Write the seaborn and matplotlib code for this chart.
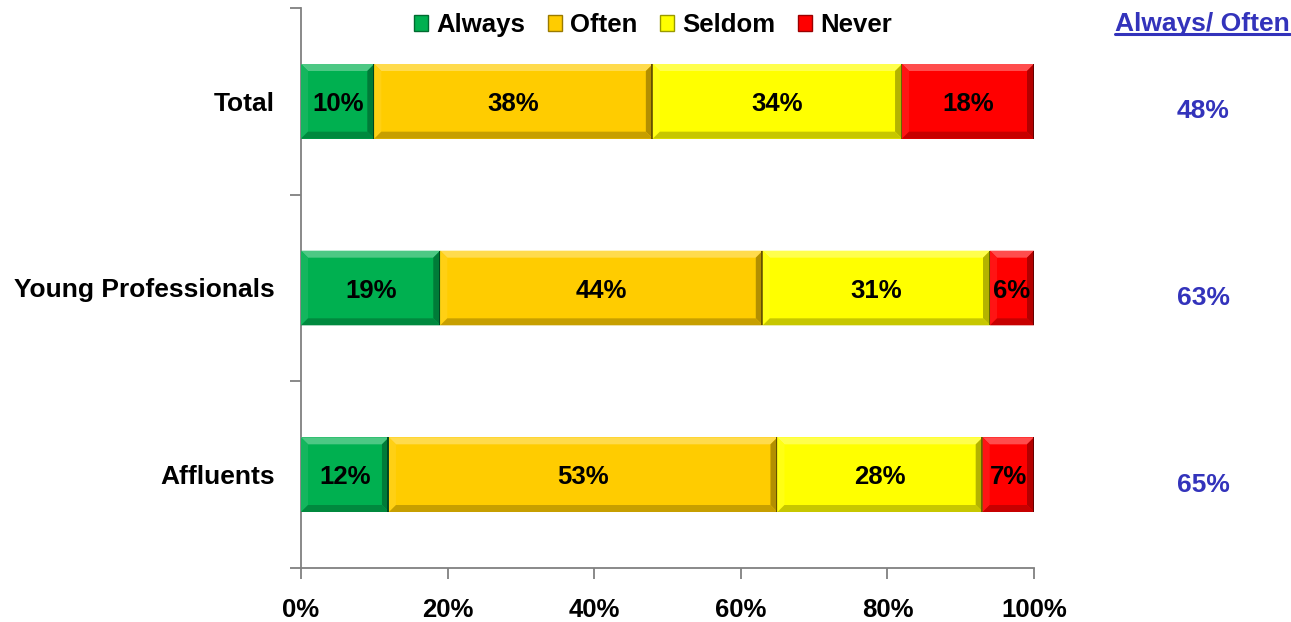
import matplotlib
matplotlib.use("Agg")
import matplotlib.pyplot as plt
import matplotlib.colors as mcolors
import matplotlib.transforms as mtransforms
from matplotlib.patches import Polygon, Patch
from matplotlib.ticker import FixedLocator, PercentFormatter
import numpy as np
import pandas as pd
import seaborn as sns

# Survey responses by segment (percent of respondents)
categories = ["Total", "Young Professionals", "Affluents"]
series_names = ["Always", "Often", "Seldom", "Never"]
always = [10, 19, 12]
often = [38, 44, 53]
seldom = [34, 31, 28]
never = [18, 6, 7]
always_often = [48, 63, 65]
x_ticks = [0, 20, 40, 60, 80, 100]

series_values = [always, often, seldom, never]
series_colors = ["#00B050", "#FFCC00", "#FFFF00", "#FF0000"]
total_color = "#3333BB"

sns.set_theme(style="white")
plt.rcParams["font.family"] = ["Liberation Sans", "DejaVu Sans"]
plt.rcParams["font.weight"] = "bold"
plt.rcParams["text.color"] = "black"
plt.rcParams["xtick.color"] = "black"
plt.rcParams["ytick.color"] = "black"

FS = 18.5
FS_BIG = 19
fig = plt.figure(figsize=(12.91, 6.22), dpi=100)
ax = fig.add_axes([301 / 1291, 1 - 568 / 622, 733 / 1291, 560 / 622])

rows = []
for name, vals in zip(series_names, series_values):
    for cat, v in zip(categories, vals):
        rows.append({"segment": cat, "series": name, "value": v})
df = pd.DataFrame(rows)

# stacked horizontal bars: each series starts where the previous one ends
left = np.zeros(len(categories))
for name, vals, col in zip(series_names, series_values, series_colors):
    sub = df[df["series"] == name]
    sns.barplot(data=sub, x="value", y="segment", order=categories, orient="h",
                color=col, saturation=1, width=0.4, left=left, ax=ax,
                edgecolor="none", linewidth=0)
    left = left + np.array(vals)

ax.set_xlim(0, 100)
ax.set_ylim(2.5, -0.5)


def mix(c, other, t):
    a = np.array(mcolors.to_rgb(c))
    b = np.array(mcolors.to_rgb(other))
    return tuple(a * (1 - t) + b * t)


def bevel(patch, color, d=7):
    """Draw a raised-bevel frame around a bar."""
    x0, y0 = patch.get_x(), patch.get_y()
    w, h = patch.get_width(), patch.get_height()
    trans = ax.transData
    p0 = trans.transform((x0, y0))
    p1 = trans.transform((x0 + w, y0 + h))
    L, R = min(p0[0], p1[0]), max(p0[0], p1[0])
    B, T = min(p0[1], p1[1]), max(p0[1], p1[1])
    inv = trans.inverted()
    faces = [
        ([(L, T), (R, T), (R - d, T - d), (L + d, T - d)], mix(color, "white", 0.3)),
        ([(L, T), (L + d, T - d), (L + d, B + d), (L, B)], mix(color, "white", 0.08)),
        ([(R, T), (R - d, T - d), (R - d, B + d), (R, B)], mix(color, "black", 0.3)),
        ([(L, B), (R, B), (R - d, B + d), (L + d, B + d)], mix(color, "black", 0.22)),
    ]
    for pts, fc in faces:
        ax.add_patch(Polygon(inv.transform(pts), closed=True, facecolor=fc,
                             edgecolor="none", zorder=3))
    ax.add_patch(Polygon(inv.transform([(R - 1.5, T), (R, T), (R, B), (R - 1.5, B)]),
                         closed=True, facecolor=mix(color, "black", 0.6),
                         edgecolor="none", zorder=3))


fig.canvas.draw()
n = len(categories)
for i, (vals, col) in enumerate(zip(series_values, series_colors)):
    for j in range(n):
        patch = ax.patches[i * n + j]
        bevel(patch, col)
        cx = patch.get_x() + patch.get_width() / 2
        cy = patch.get_y() + patch.get_height() / 2
        ax.text(cx, cy, f"{vals[j]}%", ha="center", va="center_baseline",
                fontsize=FS, fontweight="bold", color="black", zorder=5)

# axes styling
for s in ["top", "right"]:
    ax.spines[s].set_visible(False)
for s in ["left", "bottom"]:
    ax.spines[s].set_color("#808080")
    ax.spines[s].set_linewidth(1.3)

ax.set_xticks(x_ticks)
ax.xaxis.set_major_formatter(PercentFormatter(decimals=0))
ax.tick_params(axis="x", direction="out", length=8, width=1.3, color="#808080",
               pad=13.5, labelsize=FS, bottom=True, labelcolor="black")
ax.yaxis.set_minor_locator(FixedLocator([-0.5, 0.5, 1.5, 2.5]))
ax.tick_params(axis="y", which="minor", direction="out", length=8, width=1.3,
               color="#808080", left=True)
ax.tick_params(axis="y", which="major", length=0, pad=19, labelsize=FS_BIG,
               labelcolor="black")
for lab in ax.get_xticklabels() + ax.get_yticklabels():
    lab.set_fontweight("bold")
    lab.set_color("black")
ax.set_xlabel("")
ax.set_ylabel("")

# legend
handles = [Patch(facecolor=c, edgecolor=mix(c, "black", 0.4), linewidth=1) for c in series_colors]
leg = fig.legend(handles, series_names, loc="center", bbox_to_anchor=(653 / 1291, 1 - 25 / 622),
                 ncol=4, frameon=False, handlelength=0.55, handleheight=0.55,
                 handletextpad=0.3, columnspacing=0.9, prop={"size": FS, "weight": "bold"},
                 labelcolor="black")

# combined Always/Often column
hdr = fig.text(1290 / 1291, 1 - 22 / 622, "Always/ Often", ha="right", va="center_baseline",
               fontsize=FS_BIG, fontweight="bold", color=total_color)
fig.canvas.draw()
bb = hdr.get_window_extent().transformed(fig.transFigure.inverted())
fig.add_artist(plt.Line2D([bb.x0, bb.x1], [1 - 34 / 622] * 2, color=total_color,
                          linewidth=2.2, transform=fig.transFigure))

col_trans = mtransforms.blended_transform_factory(fig.transFigure, ax.transData)
for j, v in enumerate(always_often):
    ax.text(1203 / 1291, j + 0.04, f"{v}%", transform=col_trans,
            ha="center", va="center_baseline", fontsize=FS_BIG, fontweight="bold",
            color=total_color)

fig.savefig("out.png", dpi=100)
